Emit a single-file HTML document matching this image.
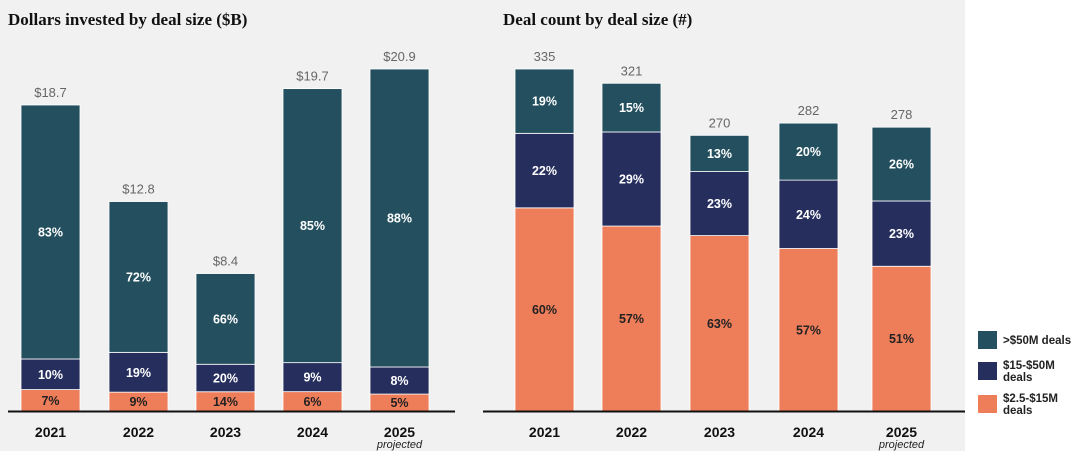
<!DOCTYPE html>
<html><head><meta charset="utf-8"><style>
body{margin:0;width:1080px;height:451px;background:#fff;overflow:hidden}
svg text{font-family:"Liberation Sans",sans-serif}
</style></head><body>
<svg id="c" width="1080" height="451">
<rect x="0" y="0" width="965" height="451" fill="#f1f1f1"/>
<text x="8" y="25" style="font-family:'Liberation Serif',serif" font-weight="bold" font-size="17" fill="#111">Dollars invested by deal size ($B)</text>
<text x="503" y="25" style="font-family:'Liberation Serif',serif" font-weight="bold" font-size="17" fill="#111">Deal count by deal size (#)</text>
<g id="legend">
<rect x="978" y="331" width="19" height="18" fill="#234f5e"/>
<text x="1003" y="344" font-size="11.5" font-weight="bold" fill="#222">&gt;$50M deals</text>
<rect x="978" y="362" width="19" height="18" fill="#262e5e"/>
<text x="1003" y="369" font-size="11.5" font-weight="bold" fill="#222"><tspan x="1003">$15-$50M</tspan><tspan x="1003" dy="12">deals</tspan></text>
<rect x="978" y="395" width="19" height="18" fill="#ee7d5a"/>
<text x="1003" y="402" font-size="11.5" font-weight="bold" fill="#222"><tspan x="1003">$2.5-$15M</tspan><tspan x="1003" dy="12">deals</tspan></text>
</g>
</svg>
<script>
const years=["2021","2022","2023","2024","2025"];
const dollarTotals=[18.7,12.8,8.4,19.7,20.9];
const dollarTotalLabels=["$18.7","$12.8","$8.4","$19.7","$20.9"];
const dollarSmall=[7,9,14,6,5];
const dollarMid=[10,19,20,9,8];
const dollarLarge=[83,72,66,85,88];
const countTotals=[335,321,270,282,278];
const countSmall=[60,57,63,57,51];
const countMid=[22,29,23,24,23];
const countLarge=[19,15,13,20,26];
const colors=["#ee7d5a","#262e5e","#234f5e"];
const NS="http://www.w3.org/2000/svg";
const svg=document.getElementById('c');
const baseY=411;
function mk(t,a,p){const e=document.createElementNS(NS,t);for(const k in a)e.setAttribute(k,a[k]);(p||svg).appendChild(e);return e;}
function drawChart(name,xs,bw,totals,labels,segs,maxV,plotH,x0,x1){
  const g=mk('g',{});
  
  
  const y=v=>baseY-v/maxV*plotH;
  totals.forEach((t,i)=>{
    const sum=segs.reduce((s,a)=>s+a[i],0);
    const H=baseY-y(t);
    let cur=baseY;
    segs.forEach((arr,si)=>{
      const h=arr[i]/sum*H;
      const r=mk('rect',{x:xs[i],y:cur-h,width:bw,height:h,fill:colors[si],stroke:'#fff','stroke-width':0.8},g);
      
      
      const tx=mk('text',{x:xs[i]+bw/2,y:cur-h/2+4.5,'text-anchor':'middle','font-size':12.5,'font-weight':'bold',fill:si==0?'#222':'#fff'},g);
      tx.textContent=arr[i]+'%';
      
      
      cur-=h;
    });
    const tl=mk('text',{x:xs[i]+bw/2,y:y(t)-8,'text-anchor':'middle','font-size':13,fill:'#666'},g);
    tl.textContent=labels[i];
    
    
    const yl=mk('text',{x:xs[i]+bw/2,y:437,'text-anchor':'middle','font-size':14,'font-weight':'bold',fill:'#111'},g);
    yl.textContent=years[i];
    
    
    if(i==4){
      const pj=mk('text',{x:xs[i]+bw/2,y:448,'text-anchor':'middle','font-size':11,'font-style':'italic',fill:'#222'},g);
      pj.textContent='projected';
      
      
    }
  });
  const ax=mk('line',{x1:x0,x2:x1,y1:baseY+0.5,y2:baseY+0.5,stroke:'#111','stroke-width':2},g);
  
  
}
drawChart('dollars-chart',[21,109,196,283,370],59,dollarTotals,dollarTotalLabels,[dollarSmall,dollarMid,dollarLarge],20.9,342,8,455);
drawChart('count-chart',[515,602,690,779,872],59,countTotals,countTotals.map(String),[countSmall,countMid,countLarge],335,342,483,965);
</script>
</body></html>
